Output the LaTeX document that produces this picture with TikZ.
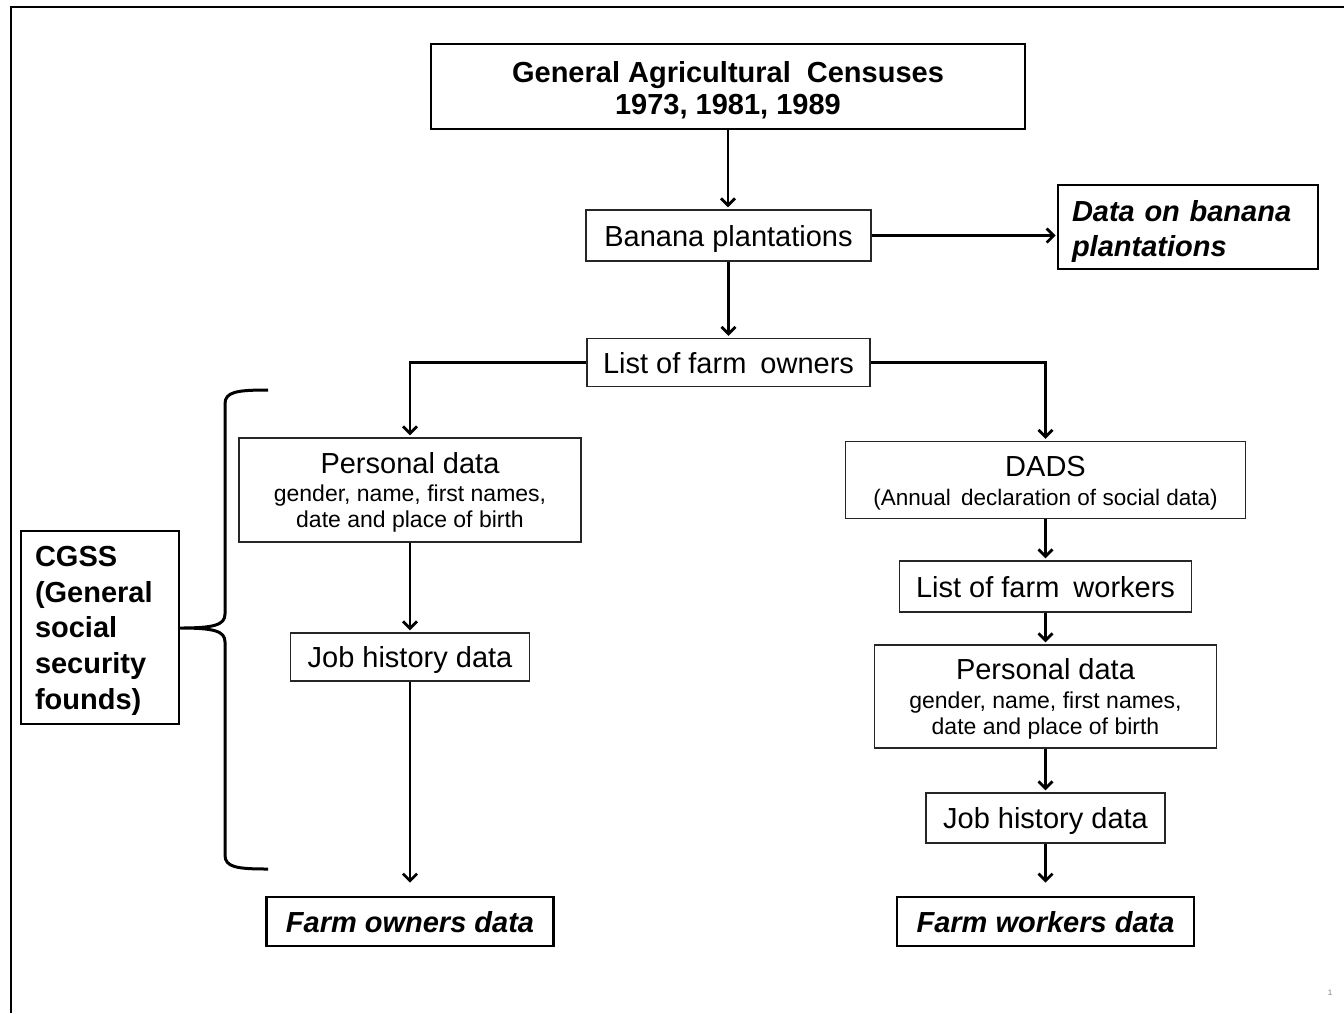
\documentclass[tikz,border=0pt]{standalone}
\usepackage{fontspec}
\setmainfont{Liberation Sans}
\usetikzlibrary{arrows.meta}
\newcommand\smtxt{\fontsize{23}{26}\selectfont}
\newcommand\dadstxt{\fontsize{22.5}{29}\selectfont}
\begin{document}
\begin{tikzpicture}[x=1pt,y=-1pt,
  box/.style={draw=black!85, line width=1.3pt, inner sep=0pt, align=center, font=\fontsize{29}{32}\selectfont},
  boldbox/.style={draw=black, line width=2.6pt, inner sep=0pt, align=center, font=\fontsize{29}{35}\selectfont\bfseries},
  oneline/.style={text height=21pt, text depth=0pt},
  arr/.style={draw=black, line width=2.2pt, -{Straight Barb[length=7pt,width=14pt,line width=2.8pt]}, shorten >=2pt}
]
\useasboundingbox (0,0) rectangle (1344,1013);
\fill[white] (0,0) rectangle (1344,1013);
\draw[line width=2.6pt] (11,1013) -- (11,7) -- (1344,7);

% nodes
\node[boldbox, minimum width=594pt, minimum height=85pt, font=\fontsize{29}{32}\selectfont\bfseries] (title) at (728,86.5) {\rule{0pt}{28pt}General Agricultural\hspace{8pt} Censuses\\1973, 1981, 1989};
\node[box, oneline, minimum width=285pt, minimum height=51pt] (banana) at (728.5,235.5) {Banana plantations};
\node[boldbox, minimum width=260pt, minimum height=84pt, text width=232pt, inner xsep=14pt, align=left, font=\fontsize{29}{35}\selectfont\bfseries\itshape] (databan) at (1188,227) {\rule{0pt}{29.5pt}Data on banana\\plantations};
\node[box, oneline, minimum width=283pt, minimum height=48pt] (owners) at (728.5,362.5) {List of farm\hspace{6pt} owners};

\node[box, minimum width=342pt, minimum height=104pt, font=\fontsize{29}{26}\selectfont] (pdA) at (410,490) {\rule{0pt}{26pt}Personal data\\[2.5pt]\smtxt gender, name, first names,\\\smtxt date and place of birth};
\node[box, oneline, minimum width=239pt, minimum height=48pt] (jobA) at (410,657) {Job history data};
\node[boldbox, oneline, minimum width=287pt, minimum height=49pt, font=\fontsize{29}{32}\selectfont\bfseries\itshape] (farmown) at (410,921.5) {Farm owners data};

\node[box, minimum width=400pt, minimum height=77pt, font=\fontsize{29}{29}\selectfont] (dads) at (1045.5,480) {\rule{0pt}{26.5pt}DADS\\\dadstxt (Annual\hspace{4pt} declaration of social data)};
\node[box, oneline, minimum width=292pt, minimum height=51pt] (workers) at (1045.5,586.5) {List of farm\hspace{6pt} workers};
\node[box, minimum width=342pt, minimum height=103pt, font=\fontsize{29}{26}\selectfont] (pdB) at (1045.5,696.5) {\rule{0pt}{26pt}Personal data\\[2.5pt]\smtxt gender, name, first names,\\\smtxt date and place of birth};
\node[box, oneline, minimum width=239pt, minimum height=50pt] (jobB) at (1045.5,818) {Job history data};
\node[boldbox, oneline, minimum width=297pt, minimum height=49pt, font=\fontsize{29}{32}\selectfont\bfseries\itshape] (farmwork) at (1045.5,921.5) {Farm workers data};

\node[boldbox, minimum width=158pt, minimum height=193pt, text width=130pt, inner xsep=14pt, align=left, font=\fontsize{29}{35.75}\selectfont\bfseries] (cgss) at (100,627.5) {\rule{0pt}{26.8pt}CGSS\\(General\\social\\security\\founds)};

\node[text=black!50, font=\fontsize{8}{9}\selectfont, inner sep=0pt] (pagenum) at (1330,993) {1};

% connectors
\draw[arr] (title.south) -- (title.south |- banana.north);
\draw[arr, shorten >=1pt] (banana.east) -- (banana.east -| databan.west);
\draw[arr] (banana.south) -- (banana.south |- owners.north);
\draw[arr] (owners.west) -| (pdA.north);
\draw[arr] (owners.east) -| (dads.north);
\draw[arr] (pdA.south) -- (jobA.north);
\draw[arr, shorten >=13pt] (jobA.south) -- (farmown.north);
\draw[arr] (dads.south) -- (workers.north);
\draw[arr] (workers.south) -- (pdB.north);
\draw[arr] (pdB.south) -- (jobB.north);
\draw[arr, shorten >=13pt] (jobB.south) -- (farmwork.north);

% brace
\coordinate (brtop) at (268,390);
\coordinate (brbot) at (268,869);
\draw[line width=3pt, line join=round] (brtop) .. controls (236,390) and (225,392) .. (225,404)
  -- (225,614) .. controls (225,625) and (214,628) .. (cgss.east |- 0,628)
  .. controls (214,628) and (225,631) .. (225,642)
  -- (225,855) .. controls (225,867) and (236,869) .. (brbot);
\end{tikzpicture}
\end{document}
